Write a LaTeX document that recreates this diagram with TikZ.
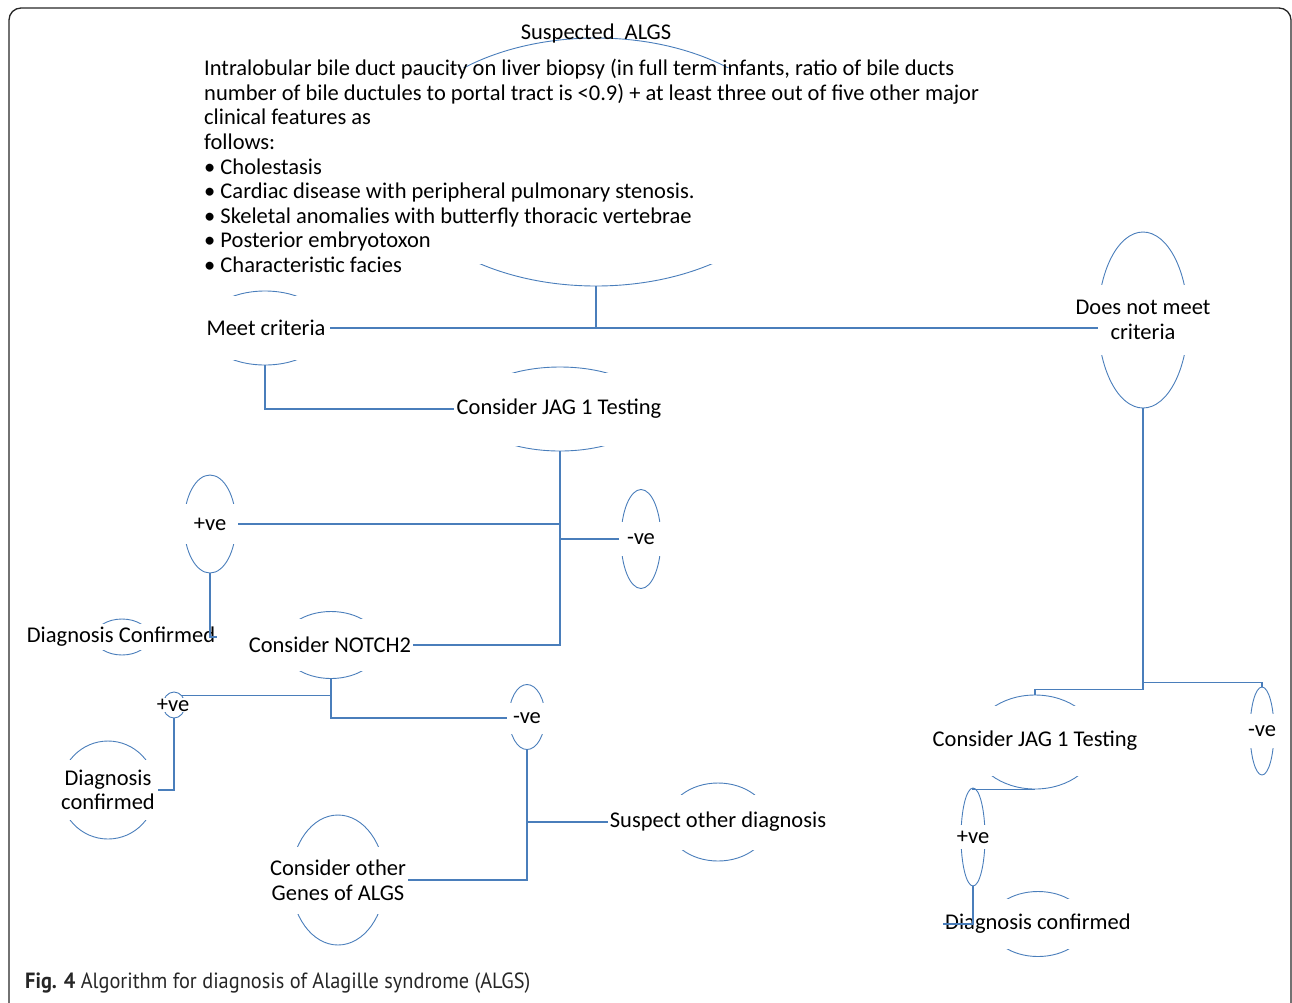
\documentclass[tikz,border=0pt]{standalone}
\usepackage{graphicx}
\usepackage{fontspec}
\setmainfont{Carlito}
\newfontfamily\capfont{PT Sans}
\usetikzlibrary{shapes.geometric}
\definecolor{shapeBlue}{RGB}{74,126,187}

\begin{document}
\begin{tikzpicture}
[x=1pt, y=-1pt,
  ringShape/.style={shape=ellipse,draw=shapeBlue,line width=0.9pt,inner sep=0pt},%
  textBox/.style={fill=white,inner xsep=2pt,inner ysep=0pt,align=center,font=\fontsize{22.5}{24.6}\selectfont},%
  linkLine/.style={draw=shapeBlue,line width=1.15pt}]
\useasboundingbox (0,0) rectangle (1292,1002);
%% frame
\draw[line width=1.3pt, color=black!85, rounded corners=12] (9,8) rectangle (1291,1040);
%% the ovals behind the labels
\foreach \nodename/\x/\y/\w/\h in {algsO/596/162/406/248, meetO/265/328/124/74,
  dnmO/1143/320/90/176, jag1O/560/409/182/84, posAO/210/524/52/98,
  negAO/641/539/40/99, dxAO/122/637/55/36, notchO/331/645/98/67,
  posBO/174/705/22/26, negBO/527/717/36/65, dxBO/108/790/96/98,
  genesO/338/880/94/130, suspO/718/822/102/78, jag2O/1035/742/124/94,
  negCO/1262/731/24/88, posCO/973/837/24/98, dxCO/1038/924/96/65}
{
  \node[ringShape, minimum width=\w, minimum height=\h] (\nodename) at (\x,\y) {};
}
%% the labels
\node[inner sep=0pt, font=\fontsize{22.5}{24.6}\selectfont] (title) at (596,33) {Suspected\ \ ALGS};
\node[textBox, align=left, anchor=west, inner ysep=-9pt] (crit) at (202,166)
  {Intralobular bile duct paucity on liver biopsy (in full term infants, ratio of bile ducts\\
   number of bile ductules to portal tract is <0.9) + at least three out of five other major\\
   clinical features as\\
   follows:\\
   • Cholestasis\\
   • Cardiac disease with peripheral pulmonary stenosis.\\
   • Skeletal anomalies with butterfly thoracic vertebrae\\
   • Posterior embryotoxon\\
   • Characteristic facies};
\node[textBox, minimum width=128, minimum height=64] (meet) at (266,328) {Meet criteria};
\node[textBox, minimum height=70] (dnm) at (1143,320) {Does not meet\\criteria};
\node[textBox, minimum width=186, minimum height=73] (jag1) at (559,409) {Consider JAG 1 Testing};
\node[textBox, minimum width=56, minimum height=40] (posA) at (210,524) {+ve};
\node[textBox, minimum width=44, minimum height=34] (negA) at (641,539) {-ve};
\node[textBox, minimum height=26] (dxA) at (121,637) {Diagnosis Confirmed};
\node[textBox, minimum height=52] (notch) at (330,645) {Consider NOTCH2};
\node[textBox, minimum width=26, minimum height=14] (posB) at (173,705) {+ve};
\node[textBox, minimum width=40, minimum height=31] (negB) at (527,718) {-ve};
\node[textBox, minimum width=100, minimum height=60] (dxB) at (108,790) {Diagnosis\\confirmed};
\node[textBox, minimum height=67] (genes) at (338,880) {Consider other\\Genes of ALGS};
\node[textBox, minimum width=106, minimum height=55] (susp) at (718,822) {Suspect other diagnosis};
\node[textBox, minimum width=128, minimum height=70] (jag2) at (1035,741) {Consider JAG 1 Testing};
\node[textBox, minimum height=34] (negC) at (1262,731) {-ve};
\node[textBox, minimum height=24] (posC) at (973,837) {+ve};
\node[textBox, minimum width=100, minimum height=50] (dxC) at (1038,924) {Diagnosis confirmed};
%% the connectors
\draw[linkLine] (algsO.south) -- (algsO.south |- meet.east);
\draw[linkLine] (meet.east) -- (meet.east -| dnmO.west);
\draw[linkLine] (meetO.south) |- (jag1.west);
\draw[linkLine] (jag1O.south) |- (notch.east);
\draw[linkLine] (posA.east) -- (posA.east -| jag1O.south);
\draw[linkLine] (negA.west) -- (negA.west -| jag1O.south);
\draw[linkLine] (posAO.south) |- (dxA.east);
\draw[linkLine] (notchO.south) |- (negB.west);
\draw[linkLine] (posBO.north east) -- (posBO.north east -| notchO.south);
\draw[linkLine] (posBO.south) |- (dxB.east);
\draw[linkLine] (negBO.south) |- (genes.east);
\draw[linkLine] (susp.west) -- (susp.west -| negBO.south);
\draw[linkLine] (dnmO.south) -- ++(0,281) -| (jag2O.north);
\draw[linkLine] (dnmO.south) ++(0,274) -| (negCO.north);
\draw[linkLine] (jag2O.south) -| (posCO.north);
\draw[linkLine] (posCO.south) |- (dxC.west);
%% caption
\node[anchor=west, inner sep=0pt, color=black!85, font=\capfont\fontsize{22}{26}\selectfont] (caption) at (25,983)
  {\scalebox{0.925}[1]{\textbf{Fig. 4} Algorithm for diagnosis of Alagille syndrome (ALGS)}};
\end{tikzpicture}
\end{document}
